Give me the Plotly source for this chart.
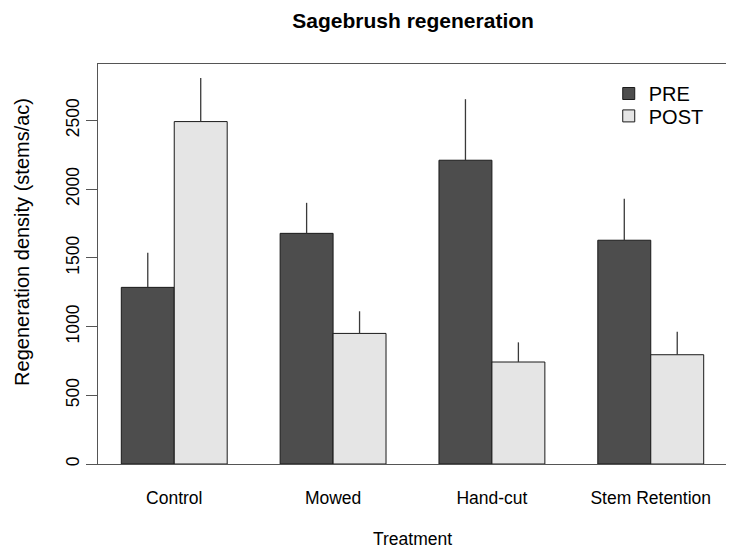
import plotly.graph_objects as go

# Sagebrush regeneration, mean stems/ac with +1 SE
treatments = ["Control", "Mowed", "Hand-cut", "Stem Retention"]
pre = [1285, 1678, 2210, 1628]
pre_se = [251, 222, 444, 301]
post = [2491, 950, 742, 795]
post_se = [318, 161, 143, 168]
y_ticks = [0, 500, 1000, 1500, 2000, 2500]

FONT = "Liberation Sans, Arial, Helvetica, sans-serif"

fig = go.Figure()

fig.add_trace(go.Bar(
    x=treatments, y=pre, name="PRE", legend="legend",
    marker=dict(color="#4d4d4d", line=dict(color="#1a1a1a", width=1)),
    error_y=dict(type="data", symmetric=False, array=pre_se, arrayminus=[0] * len(pre_se),
                 width=0, thickness=1.3, color="#3a3a3a"),
))
fig.add_trace(go.Bar(
    x=treatments, y=post, name="POST", legend="legend2",
    marker=dict(color="#e5e5e5", line=dict(color="#1a1a1a", width=1)),
    error_y=dict(type="data", symmetric=False, array=post_se, arrayminus=[0] * len(post_se),
                 width=0, thickness=1.3, color="#3a3a3a"),
))

# page body has an 8px margin, so the figure is shrunk by 8 px each way
fig.update_layout(
    width=726, height=542, autosize=False,
    margin=dict(l=90, r=7, t=56, b=86),
    plot_bgcolor="white", paper_bgcolor="white",
    font=dict(family=FONT, color="black"),
    barmode="group", bargap=1 / 3, bargroupgap=0,
    title=dict(text="<b>Sagebrush regeneration</b>", x=0.558, xanchor="center",
               y=0.976, yanchor="middle", yref="container",
               font=dict(size=21, family=FONT, color="black")),
    legend=dict(x=0.812, y=0.975, xanchor="left", yanchor="top",
                bgcolor="rgba(0,0,0,0)", font=dict(size=20, family=FONT)),
    legend2=dict(x=0.812, y=0.919, xanchor="left", yanchor="top",
                 bgcolor="rgba(0,0,0,0)", font=dict(size=20, family=FONT)),
    showlegend=True,
)

fig.update_xaxes(
    range=[-0.48, 3.48], showline=True, mirror=True, linecolor="#555555", linewidth=1.3,
    ticks="", tickfont=dict(size=17.5), ticklabelstandoff=18, showgrid=False,
)
fig.update_yaxes(
    range=[0, 2910], tickvals=y_ticks, showline=True, mirror=True, linecolor="#555555",
    linewidth=1.3, ticks="outside", ticklen=11, tickcolor="#555555", tickwidth=1.3,
    tickangle=-90, tickfont=dict(size=17.5), showgrid=False, zeroline=False,
)

# axis titles placed like the R defaults
fig.add_annotation(text="Regeneration density (stems/ac)", xref="paper", yref="paper",
                   x=-0.121, y=0.555, textangle=-90, showarrow=False,
                   font=dict(size=20, family=FONT), xanchor="center", yanchor="middle")
fig.add_annotation(text="Treatment", xref="paper", yref="paper",
                   x=0.5, y=-0.1875, showarrow=False,
                   font=dict(size=17.5, family=FONT), xanchor="center", yanchor="middle")

fig.write_html("out.html")
